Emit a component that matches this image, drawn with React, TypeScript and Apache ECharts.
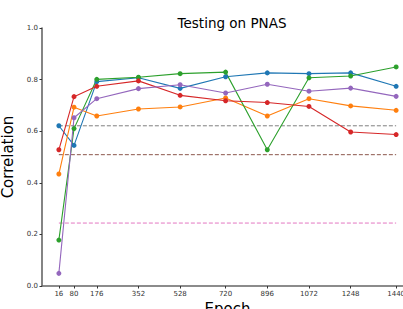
import React, { useEffect, useRef } from "react";
import * as echarts from "echarts";

const epochs = [16, 80, 176, 352, 528, 720, 896, 1072, 1248, 1440];
const seriesBlue = [0.621, 0.545, 0.792, 0.807, 0.766, 0.811, 0.826, 0.823, 0.826, 0.774];
const seriesOrange = [0.434, 0.693, 0.659, 0.686, 0.694, 0.729, 0.659, 0.726, 0.698, 0.681];
const seriesGreen = [0.178, 0.61, 0.801, 0.809, 0.823, 0.829, 0.528, 0.807, 0.814, 0.849];
const seriesRed = [0.528, 0.734, 0.774, 0.795, 0.739, 0.718, 0.711, 0.696, 0.597, 0.587];
const seriesPurple = [0.049, 0.652, 0.726, 0.765, 0.78, 0.748, 0.782, 0.755, 0.767, 0.735];
const baselineBrown = 0.509;
const baselinePink = 0.244;
const baselineGray = 0.621;
const yTicks = [0, 0.2, 0.4, 0.6, 0.8, 1.0];

const colors = {
  blue: "#1f77b4",
  orange: "#ff7f0e",
  green: "#2ca02c",
  red: "#d62728",
  purple: "#9467bd",
  brown: "#8c564b",
  pink: "#e377c2",
  gray: "#7f7f7f",
};

export default function App() {
  const ref = useRef<HTMLDivElement>(null);
  useEffect(() => {
    if (!ref.current) return;
    const chart = echarts.init(ref.current, undefined, { renderer: "svg" });
    const lineSeries = (name: string, vals: number[], color: string) => ({
      name,
      type: "line",
      data: epochs.map((e, i) => [e, vals[i]]),
      symbol: "circle",
      symbolSize: 5,
      lineStyle: { color, width: 1.1 },
      itemStyle: { color },
      z: 3,
    });
    const dashSeries = (name: string, v: number, color: string) => ({
      name,
      type: "line",
      data: [
        [epochs[0], v],
        [epochs[epochs.length - 1], v],
      ],
      symbol: "none",
      lineStyle: { color, width: 1, type: [4, 2] },
      z: 2,
    });
    chart.setOption({
      animation: false,
      backgroundColor: "#ffffff",
      title: {
        text: "Testing on PNAS",
        left: 227,
        textAlign: "center",
        top: 11,
        textStyle: {
          fontFamily: "DejaVu Sans",
          fontSize: 13.5,
          fontWeight: "normal",
          color: "#000",
        },
      },
      grid: { left: 42, top: 28, width: 371, height: 258, outerBoundsMode: "none", containLabel: false },
      xAxis: {
        type: "value",
        min: -55.2,
        max: 1511.2,
        name: "Epoch",
        nameLocation: "middle",
        nameGap: 10,
        nameTextStyle: { fontFamily: "DejaVu Sans", fontSize: 15, color: "#000" },
        splitLine: { show: false },
        axisLine: { onZero: false, lineStyle: { color: "#666", width: 1.6 } },
        axisTick: { customValues: epochs, length: 2.5, lineStyle: { color: "#333" } },
        axisLabel: {
          customValues: epochs,
          formatter: (v: number) => String(v),
          fontFamily: "DejaVu Sans",
          fontSize: 7,
          color: "#333",
          margin: 4,
        },
      },
      yAxis: {
        type: "value",
        min: 0,
        max: 1,
        interval: 0.2,
        name: "Correlation",
        nameLocation: "middle",
        nameGap: 17,
        nameTextStyle: { fontFamily: "DejaVu Sans", fontSize: 15, color: "#000" },
        splitLine: { show: false },
        axisLine: { show: true, onZero: false, lineStyle: { color: "#666", width: 1.6 } },
        axisTick: { show: true, length: 2.5, lineStyle: { color: "#333" } },
        axisLabel: {
          customValues: yTicks,
          formatter: (v: number) => v.toFixed(1),
          fontFamily: "DejaVu Sans",
          fontSize: 7,
          color: "#333",
          margin: 4,
        },
      },
      series: [
        dashSeries("Brown baseline", baselineBrown, colors.brown),
        dashSeries("Pink baseline", baselinePink, colors.pink),
        dashSeries("Gray baseline", baselineGray, colors.gray),
        lineSeries("Blue", seriesBlue, colors.blue),
        lineSeries("Orange", seriesOrange, colors.orange),
        lineSeries("Green", seriesGreen, colors.green),
        lineSeries("Red", seriesRed, colors.red),
        lineSeries("Purple", seriesPurple, colors.purple),
      ],
    });
    return () => chart.dispose();
  }, []);
  return (
    <div
      ref={ref}
      style={{ position: "fixed", left: 0, top: 0, width: 403, height: 309 }}
    />
  );
}
